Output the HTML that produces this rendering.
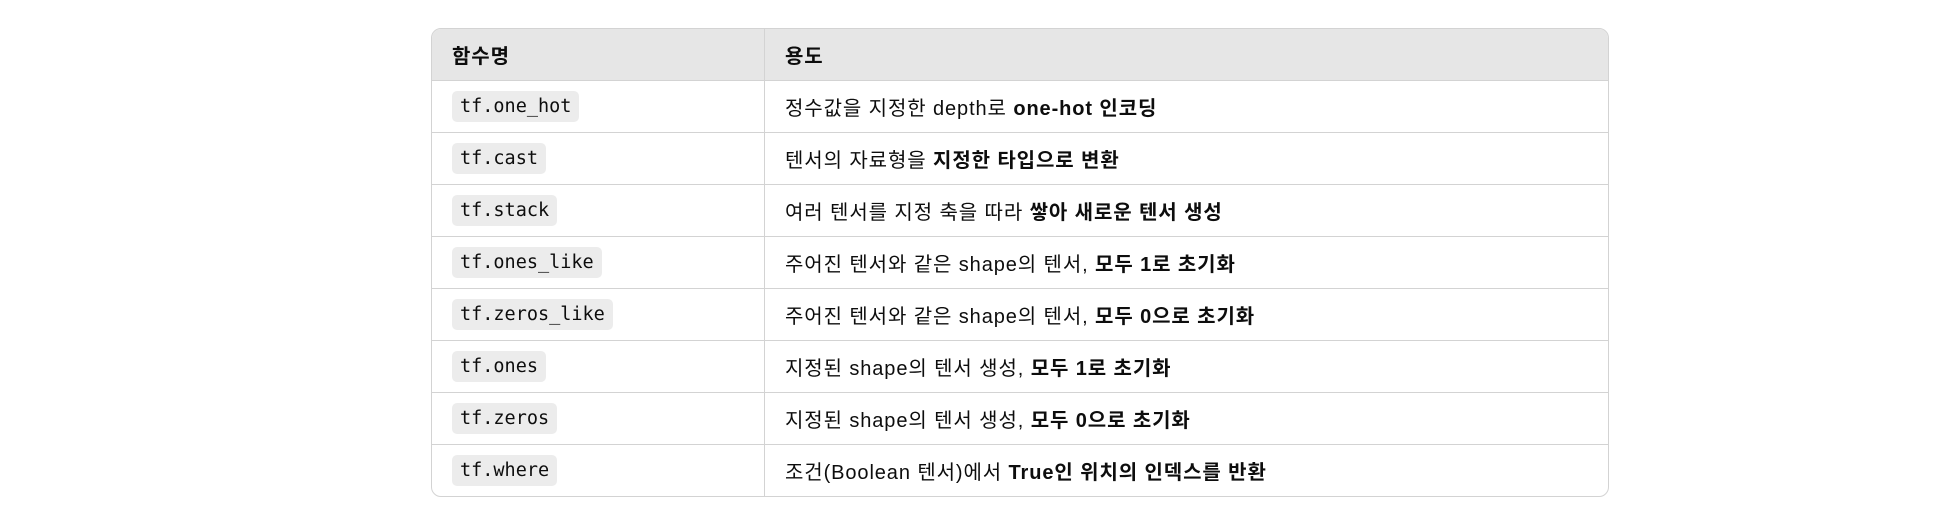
<!DOCTYPE html>
<html><head><meta charset="utf-8"><style>
body{margin:0;width:1960px;height:518px;background:#fff;font-family:"Liberation Sans","Noto Sans CJK KR",sans-serif;color:#0d0d0d;}
.wrap{position:absolute;left:431px;top:28px;width:1176px;border:1px solid #d3d3d3;border-radius:10px;overflow:hidden;}
table{border-collapse:collapse;width:100%;font-size:20px;letter-spacing:0.9px;}
td,th{height:51px;padding:0 20px;text-align:left;border-bottom:1px solid #d3d3d3;}
tr:last-child td{border-bottom:none;}
th{background:#e6e6e6;font-weight:bold;}
td:first-child,th:first-child{width:292px;border-right:1px solid #d3d3d3;}
code{font-family:"DejaVu Sans Mono","Liberation Mono",monospace;font-size:18.5px;letter-spacing:0;background:#ececec;border-radius:5px;padding:5px 8px;}
b{font-weight:bold;}
</style></head><body>
<div class="wrap">
<table>
<tr><th>함수명</th><th>용도</th></tr>
<tr><td><code>tf.one_hot</code></td><td>정수값을 지정한 depth로 <b>one-hot 인코딩</b></td></tr>
<tr><td><code>tf.cast</code></td><td>텐서의 자료형을 <b>지정한 타입으로 변환</b></td></tr>
<tr><td><code>tf.stack</code></td><td>여러 텐서를 지정 축을 따라 <b>쌓아 새로운 텐서 생성</b></td></tr>
<tr><td><code>tf.ones_like</code></td><td>주어진 텐서와 같은 shape의 텐서, <b>모두 1로 초기화</b></td></tr>
<tr><td><code>tf.zeros_like</code></td><td>주어진 텐서와 같은 shape의 텐서, <b>모두 0으로 초기화</b></td></tr>
<tr><td><code>tf.ones</code></td><td>지정된 shape의 텐서 생성, <b>모두 1로 초기화</b></td></tr>
<tr><td><code>tf.zeros</code></td><td>지정된 shape의 텐서 생성, <b>모두 0으로 초기화</b></td></tr>
<tr><td><code>tf.where</code></td><td>조건(Boolean 텐서)에서 <b>True인 위치의 인덱스를 반환</b></td></tr>
</table>
</div>
</body></html>
